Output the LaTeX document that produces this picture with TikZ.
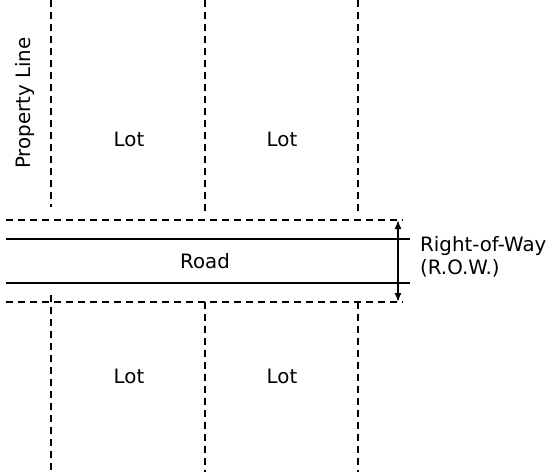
\documentclass[tikz,border=0pt]{standalone}
\usepackage{fontspec}
\setmainfont{DejaVu Sans}
\usetikzlibrary{arrows.meta}

\begin{document}
\begin{tikzpicture}[
    x=1pt, y=-1pt,
    every node/.style={font=\fontsize{19.8}{23}\selectfont},
    propline/.style={dash pattern=on 6.5pt off 5.5pt, line width=1.6pt},
    edge/.style={line width=1.9pt},
    dim/.style={{Latex[length=9pt,width=7pt]}-{Latex[length=9pt,width=7pt]}, line width=1.6pt}
]
\useasboundingbox (0,0) rectangle (548,472);

% right-of-way limits and road edges
\draw[propline] (6,220) -- (403,220);
\draw[propline] (6,302) -- (403,302);
\draw[edge] (6,239) -- (410,239);
\draw[edge] (6,283) -- (410,283);

% lot lines, north side
\draw[propline] (51,0) -- (51,207);
\draw[propline] (205,0) -- (205,215);
\draw[propline] (358,0) -- (358,215);

% lot lines, south side
\draw[propline] (51,295) -- (51,472);
\draw[propline] (205,302) -- (205,472);
\draw[propline] (358,302) -- (358,472);

\node (lotnw) at (129,139) {Lot};
\node (lotne) at (282,139) {Lot};
\node (lotsw) at (129,376) {Lot};
\node (lotse) at (282,376) {Lot};
\node (road) at (205,261) {Road};
\node[rotate=90] (propline) at (25,103) {Property Line};

% width of the right-of-way
\coordinate (rowtop) at (398,220);
\coordinate (rowbot) at (398,302);
\draw[dim] (rowtop) -- (rowbot);
\node[anchor=west, align=left, inner sep=0pt] (row) at (420,257) {Right-of-Way\\(R.O.W.)};

\end{tikzpicture}
\end{document}
